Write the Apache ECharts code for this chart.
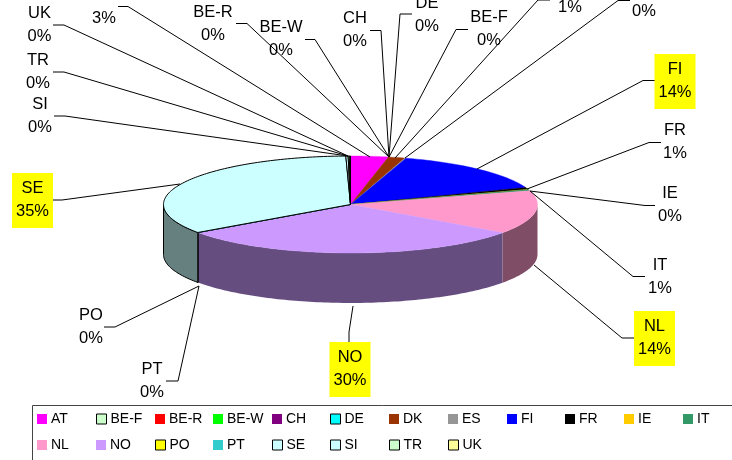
<!DOCTYPE html>
<html><head><meta charset="utf-8">
<style>html,body{margin:0;padding:0;background:#fff}#c{width:732px;height:460px}</style>
<script src="https://cdn.jsdelivr.net/npm/echarts@6/dist/echarts.min.js"></script>
</head><body><div id="c"></div>
<script>
const categories=['AT','BE-F','BE-R','BE-W','CH','DE','DK','ES','FI','FR','IE','IT','NL','NO','PO','PT','SE','SI','TR','UK'];
const values=[3.25,0,0,0,0,0,1.45,0.1,14.5,0.7,0.02,0.38,14.5,30.3,0.01,0.01,34.4,0.2,0.1,0.1];
const percentLabels=['3%','0%','0%','0%','0%','0%','1%','0%','14%','1%','0%','1%','14%','30%','0%','0%','35%','0%','0%','0%'];
const colors=['#FF00FF','#CCFFCC','#FF0000','#00FF00','#800080','#00FFFF','#993300','#969696','#0000FF','#000000','#FFCC00','#339966','#FF99CC','#CC99FF','#FFFF00','#33CCCC','#CCFFFF','#CCFFFF','#CCFFCC','#FFFF99'];
const outlined=['BE-F','DE','PO','SE','SI','TR','UK'];
const highlighted=['FI','NL','NO','SE'];
// layout of data labels: text centre x, first line y, leader points [anchor, elbow, end]
const labelLayout={
 'AT':[104,-6,[[370,157],[128,6.5],[118,6.5]]],
 'BE-F':[489,16,[[389,157],[456,29.5],[468,29.5]]],
 'BE-R':[213,11,[[389,157],[247,23.5],[236,23.5]]],
 'BE-W':[281,26,[[389,157],[315,39.5],[305,39.5]]],
 'CH':[355,17,[[389,157],[381,30.5],[370,30.5]]],
 'DE':[427,2,[[389,157],[400,14],[412,14]]],
 'DK':[570,-17,[[395,158],[538,0],[550,0]]],
 'ES':[644,-13,[[405,158],[618,0.5],[630,0.5]]],
 'FI':[675,68,[[477,169],[643,80.5],[655,80.5]]],
 'FR':[675,129,[[527,189],[649,142.5],[661,142.5]]],
 'IE':[670,192,[[530,191],[645,205.5],[655,205.5]]],
 'IT':[660,264,[[530,191],[633,276.5],[645,276.5]]],
 'NL':[654.5,325,[[534,265],[622,338],[634,338]]],
 'NO':[350,356,[[353,306],[349,332],[349,342]]],
 'PO':[91,314,[[199,286],[115,327],[104,327]]],
 'PT':[152,368,[[199,286],[178,381],[166,381]]],
 'SE':[32.5,187,[[180,184],[62,200],[53,200]]],
 'SI':[40,103,[[348,156],[65,116],[54,116]]],
 'TR':[38,59,[[348,156],[64,72],[53,72]]],
 'UK':[39.5,12,[[348,156],[64,25],[53,25]]]
};
const legendCols=[37,96,155,213,272,330,389,448,507,565,624,683];
const legendRows=[412,438];
const total=values.reduce((a,b)=>a+b,0);
const starts=[];values.reduce((a,v,i)=>(starts[i]=a,a+v),0);
const wallDepth=1.03; // in y-axis units
const font='"Liberation Sans",Arial,sans-serif';
const dark=c=>{const n=parseInt(c.slice(1),16);const f=v=>Math.round(v/2);return `rgb(${f(n>>16&255)},${f(n>>8&255)},${f(n&255)})`;};
const rim=a=>[Math.sin(a),Math.cos(a)];
function arc(a0,a1,dy,api){const pts=[];const n=Math.max(1,Math.ceil((a1-a0)/0.02));for(let k=0;k<=n;k++){const a=a0+(a1-a0)*k/n;const p=rim(a);pts.push(api.coord([p[0],p[1]-dy]));}return pts;}
const series3D=categories.map((name,i)=>({
 type:'custom',name,coordinateSystem:'cartesian2d',animation:false,silent:true,clip:false,
 z:2,
 itemStyle:{color:colors[i]},
 data:[[values[i],i]],
 renderItem(params,api){
  const v=api.value(0);if(!v)return {type:'group',children:[]};
  const a0=starts[i]/total*2*Math.PI,a1=a0+v/total*2*Math.PI;
  const line=outlined.includes(name)?{stroke:'#000',lineWidth:1}:{stroke:colors[i],lineWidth:0.4};
  const children=[];
  const w0=Math.max(a0,Math.PI/2),w1=Math.min(a1,Math.PI*1.5);
  if(w1>w0){
   const top=arc(w0,w1,0,api),bot=arc(w0,w1,wallDepth,api).reverse();
   children.push({type:'polygon',shape:{points:top.concat(bot)},style:{fill:dark(colors[i]),...(outlined.includes(name)?line:{})},z2:1});
  }
  const c=api.coord([0,0]);
  children.push({type:'polygon',shape:{points:[c].concat(arc(a0,a1,0,api))},style:{fill:colors[i],...line},z2:10+i});
  return {type:'group',children};
 }
}));
const labelSeries={
 type:'custom',name:'labels',coordinateSystem:'cartesian2d',animation:false,silent:true,clip:false,z:5,
 data:categories.map((c,i)=>[values[i],i]),
 renderItem(params,api){
  const i=api.value(1),name=categories[i],L=labelLayout[name];
  const children=[{type:'polyline',shape:{points:L[2]},style:{stroke:'#000',lineWidth:1,fill:null}}];
  if(highlighted.includes(name))children.push({type:'rect',shape:{x:L[0]-20.5,y:L[1]-14,width:41,height:55},style:{fill:'#FFFF00'}});
  children.push({type:'text',x:L[0],y:L[1]+1.5,style:{text:name,fill:'#000',font:'16.5px '+font,align:'center',verticalAlign:'middle'}});
  children.push({type:'text',x:L[0],y:L[1]+24,style:{text:percentLabels[i],fill:'#000',font:'16.5px '+font,align:'center',verticalAlign:'middle'}});
  return {type:'group',children};
 }
};
const chart=echarts.init(document.getElementById('c'),null,{renderer:'canvas'});
chart.setOption({
 animation:false,backgroundColor:'#fff',
 grid:{left:163.5,width:374,top:156,height:97},
 xAxis:{type:'value',min:-1,max:1,show:false},
 yAxis:{type:'value',min:-1,max:1,show:false},
 legend:categories.map((name,i)=>({
  left:legendCols[i%12],top:legendRows[Math.floor(i/12)],padding:0,itemGap:0,itemWidth:10,itemHeight:10,
  selectedMode:false,
  textStyle:{fontFamily:font,fontSize:14,color:'#000',padding:[0,0,9,-1]},
  data:[{name,icon:'rect',itemStyle:{color:colors[i],borderColor:outlined.includes(name)?'#000':colors[i],borderWidth:outlined.includes(name)?1:0}}]
 })),
 graphic:[{type:'polyline',silent:true,z:0,shape:{points:[[32.5,460],[32.5,405.5],[732,405.5]]},style:{stroke:'#444',lineWidth:1,fill:null}}],
 series:[...series3D,labelSeries]
});
</script></body></html>
